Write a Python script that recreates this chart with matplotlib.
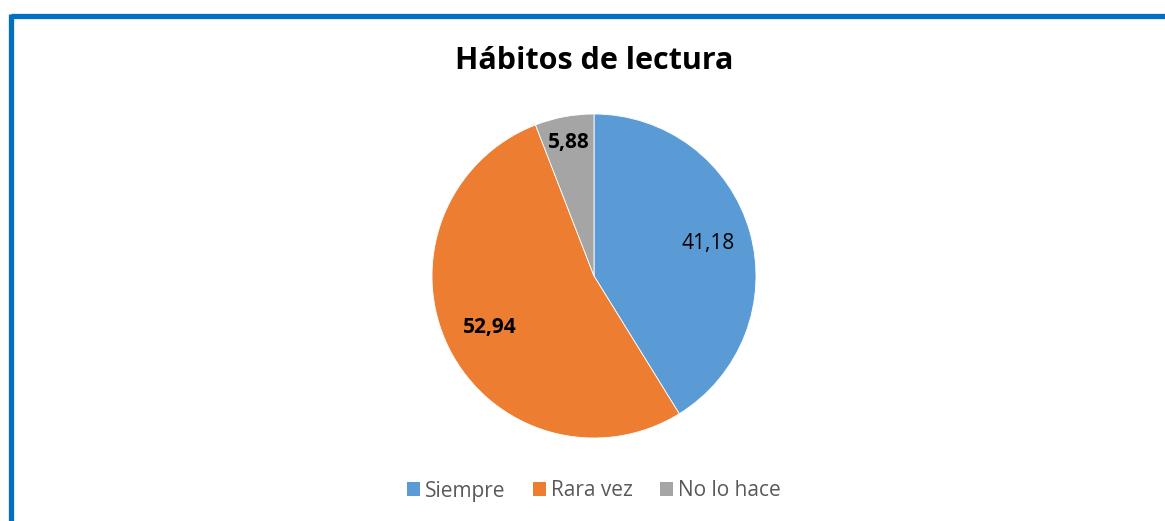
import matplotlib
matplotlib.use("Agg")
import matplotlib.pyplot as plt
import numpy as np
from matplotlib.patches import Rectangle
from matplotlib.lines import Line2D

categories = ["Siempre", "Rara vez", "No lo hace"]
values = [41.18, 52.94, 5.88]
labels = ["41,18", "52,94", "5,88"]
colors = ["#5B9BD5", "#ED7D31", "#A5A5A5"]
label_weights = ["normal", "bold", "bold"]
label_dist = [0.73, 0.72, 0.84]
title = "Hábitos de lectura"

plt.rcParams['font.family'] = ['Open Sans', 'DejaVu Sans']

W, H = 1165, 521
fig = plt.figure(figsize=(W / 100, H / 100), dpi=100)
fig.patch.set_facecolor("white")

# border (top and left visible)
fig.add_artist(Line2D([10.5 / W, 1.0], [1 - 15.5 / H, 1 - 15.5 / H], color="#0070C0", lw=3.8,
                      transform=fig.transFigure, solid_capstyle="butt"))
fig.add_artist(Line2D([10.5 / W, 10.5 / W], [0, 1 - 13.5 / H], color="#0070C0", lw=3.8,
                      transform=fig.transFigure, solid_capstyle="butt"))

cx, cy, r = 594, 276, 162
ax = fig.add_axes([(cx - r) / W, (H - cy - r) / H, 2 * r / W, 2 * r / H])
wedges, _ = ax.pie(values, colors=colors, startangle=90, counterclock=False, radius=1,
                   wedgeprops=dict(linewidth=0.6, edgecolor="white"))
ax.set_xlim(-1, 1)
ax.set_ylim(-1, 1)
ax.set_aspect("equal")
ax.axis("off")

for w, lab, wt, d in zip(wedges, labels, label_weights, label_dist):
    ang = np.deg2rad((w.theta1 + w.theta2) / 2)
    ax.text(d * np.cos(ang), d * np.sin(ang), lab, ha="center", va="center",
            fontsize=15, fontweight=wt, color="black")

fig.text(cx / W, 1 - 61 / H, title, ha="center", va="center", fontsize=22,
         fontweight="bold", color="black")

handles = [Rectangle((0, 0), 1, 1, facecolor=c, edgecolor="none") for c in colors]
leg = fig.legend(handles, categories, loc="center", bbox_to_anchor=(cx / W, 1 - 491 / H),
                 ncol=3, frameon=False, fontsize=15, handlelength=0.62, handleheight=0.62,
                 handletextpad=0.25, columnspacing=1.3)
for t in leg.get_texts():
    t.set_color("#595959")

fig.savefig("out.png", dpi=100, facecolor="white")
